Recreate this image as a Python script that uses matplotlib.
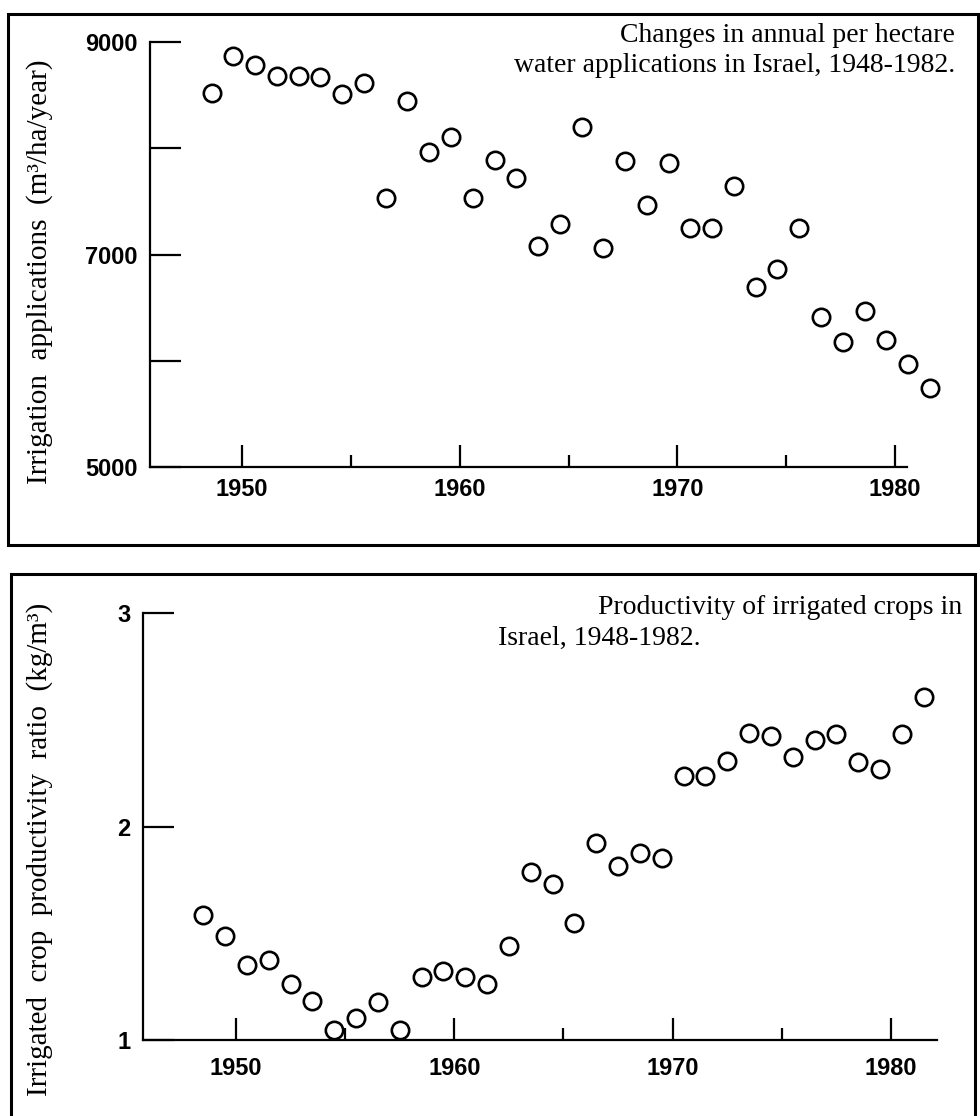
import matplotlib
matplotlib.use("Agg")
import matplotlib.pyplot as plt
from matplotlib.patches import Rectangle
from matplotlib.ticker import FixedLocator

# data (one point per year, plotted mid-year)
years_water = list(range(1948, 1982))
water_use = [8520, 8868, 8784, 8680, 8680, 8671, 8511, 8614, 7532, 8445,
             7965, 8106, 7532, 7889, 7720, 7080, 7287, 8200, 7061, 7880,
             7466, 7861, 7249, 7249, 7645, 6694, 6863, 7249, 6412, 6176,
             6468, 6195, 5969, 5744]

years_prod = list(range(1948, 1982))
productivity = [1.585, 1.487, 1.351, 1.375, 1.262, 1.183, 1.047, 1.103, 1.178, 1.047,
                1.295, 1.323, 1.295, 1.262, 1.440, 1.787, 1.731, 1.548, 1.923, 1.815,
                1.876, 1.852, 2.237, 2.237, 2.307, 2.438, 2.424, 2.326, 2.405, 2.433,
                2.302, 2.269, 2.433, 2.607]

water_yticks = [5000, 6000, 7000, 8000, 9000]
water_ylabels = ["5000", "", "7000", "", "9000"]
prod_yticks = [1, 2, 3]
prod_ylabels = ["1", "2", "3"]
decade_ticks = [1950, 1960, 1970, 1980]
half_ticks = [1955, 1965, 1975]

W, H = 980, 1116
SERIF = ["Liberation Serif", "DejaVu Serif"]
TICKFONT = dict(family="Liberation Sans", weight="bold", size=17)


def px_box(left, top, right, bottom):
    return [left / W, 1 - bottom / H, (right - left) / W, (bottom - top) / H]


def style_axes(ax, yticks, ylabels, xpad):
    for side in ("top", "right"):
        ax.spines[side].set_visible(False)
    for side in ("left", "bottom"):
        ax.spines[side].set_linewidth(1.6)
    ax.yaxis.set_major_locator(FixedLocator(yticks))
    ax.set_yticklabels(ylabels, fontdict=TICKFONT)
    ax.xaxis.set_major_locator(FixedLocator(decade_ticks))
    ax.xaxis.set_minor_locator(FixedLocator(half_ticks))
    ax.set_xticklabels([str(t) for t in decade_ticks], fontdict=TICKFONT)
    ax.tick_params(axis="y", direction="in", length=22, width=1.6, pad=9)
    ax.tick_params(axis="x", which="major", direction="in", length=16, width=1.6, pad=xpad)
    ax.tick_params(axis="x", which="minor", direction="in", length=9, width=1.6)


fig = plt.figure(figsize=(W / 100, H / 100), dpi=100)

# frames around the two panels
fig.patches.append(Rectangle((8 / W, 1 - 545 / H), 970 / W, 531 / H, fill=False,
                             lw=2.2, ec="black", transform=fig.transFigure))
fig.patches.append(Rectangle((11 / W, -0.02), 964 / W, 1 - 574 / H + 0.02, fill=False,
                             lw=2.2, ec="black", transform=fig.transFigure))

marker = dict(ls="none", marker="o", ms=12.5, mfc="none", mec="black", mew=1.9, clip_on=False)

# top panel: water applications
ax1 = fig.add_axes(px_box(150, 42, 907, 467))
ax1.plot([y + 0.6 for y in years_water], water_use, **marker)
ax1.set_xlim(1945.77, 1980.55)
ax1.set_ylim(5000, 9000)
style_axes(ax1, water_yticks, water_ylabels, xpad=8)
fig.text(40 / W, 1 - 272 / H, "Irrigation  applications  (m³/ha/year)",
         rotation=90, ha="center", va="center", family=SERIF, fontsize=21)
fig.text(955 / W, 1 - 35 / H, "Changes in annual per hectare",
         ha="right", va="center", family=SERIF, fontsize=20)
fig.text(955 / W, 1 - 66 / H, "water applications in Israel, 1948-1982.",
         ha="right", va="center", family=SERIF, fontsize=20)

# bottom panel: productivity ratio
ax2 = fig.add_axes(px_box(143, 613, 937, 1040))
ax2.plot([y + 0.5 for y in years_prod], productivity, **marker)
ax2.set_xlim(1945.74, 1982.11)
ax2.set_ylim(1, 3)
style_axes(ax2, prod_yticks, prod_ylabels, xpad=12)
fig.text(40 / W, 1 - 849 / H, "Irrigated  crop  productivity  ratio  (kg/m³)",
         rotation=90, ha="center", va="center", family=SERIF, fontsize=21)
fig.text(962 / W, 1 - 607 / H, "Productivity of irrigated crops in",
         ha="right", va="center", family=SERIF, fontsize=20)
fig.text(498 / W, 1 - 638 / H, "Israel, 1948-1982.",
         ha="left", va="center", family=SERIF, fontsize=20)

fig.savefig("out.png", dpi=100, facecolor="white")
